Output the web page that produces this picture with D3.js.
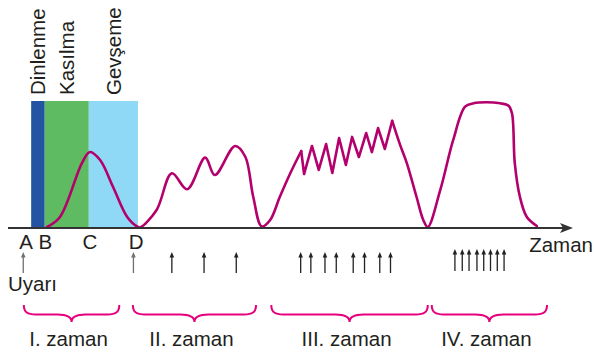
<!DOCTYPE html>
<html>
<head>
<meta charset="utf-8">
<script src="https://cdn.jsdelivr.net/npm/d3@7"></script>
<style>
  html, body { margin: 0; padding: 0; background: #fff; }
  svg { display: block; font-family: "Liberation Sans", Arial, sans-serif; }
</style>
</head>
<body>
<svg id="chart" width="594" height="353"></svg>
<script>
// Muscle twitch / summation / tetanus diagram: tension over time.

// Phases of a single twitch (time units): start, end
const phaseNames = ["Dinlenme", "Kasılma", "Gevşeme"];
const phaseBounds = [4.1, 6.5, 14.3, 23.0];
const phaseColors = ["#2354a3", "#5fbb62", "#8fd8f6"];

// Point labels on the time axis
const pointLabels = ["A", "B", "C", "D"];
const pointTimes = [3.2, 6.6, 14.5, 22.7];

// Stimulus (Uyarı) times
const stimGrey = [2.7, 22.2];
const stimBlack = [29.0, 34.7, 40.4,
                   51.8, 53.6, 56.1, 58.1, 61.1, 63.1, 65.8, 67.7,
                   79.1, 80.4, 81.6, 83.0, 84.2, 85.4, 86.6, 87.8];

// Time periods with braces
const periodNames = ["I. zaman", "II. zaman", "III. zaman", "IV. zaman"];
const periodStart = [2.8, 22.1, 46.6, 75.0];
const periodEnd = [19.7, 43.9, 74.3, 95.4];

// Tension curve: smooth rise (single twitch + summation + start of III)
const riseT = [6.9, 9.2, 13.1, 14.5, 16.3, 18.6, 21.1, 23.0, 23.4, 26.3, 29.0, 31.7, 34.9, 36.6, 40.2, 42.0, 43.4, 44.9, 46.4, 48.1, 49.9, 51.9];
const riseV = [0.8, 8.7, 51.2, 59.8, 53.5, 32.3, 8.7, 0.8, 0.4, 14.2, 43.1, 30.5, 55.4, 41.7, 64.6, 56.1, 24.6, 1.2, 6.3, 24.4, 42.5, 60.6];
// Incomplete tetanus: saw-tooth section
const sawT = [51.9, 52.4, 53.8, 55.0, 56.3, 57.4, 58.6, 59.8, 60.9, 62.1, 63.4, 64.4, 65.5, 66.7, 68.0];
const sawV = [60.6, 42.5, 64.6, 45.7, 66.1, 43.3, 70.9, 49.6, 71.7, 55.9, 74.8, 59.8, 78.7, 62.2, 84.3];
// Relaxation after III and complete tetanus (IV)
const tailT = [68.0, 69.4, 70.6, 72.3, 73.5, 74.3, 76.5, 78.8, 80.9, 82.4, 84.7, 87.1, 88.6, 89.2, 89.7, 90.6, 91.8, 93.6];
const tailV = [84.3, 65.4, 50.9, 24.6, 6.3, 0.8, 29.9, 69.3, 95.5, 98.2, 99.0, 98.2, 96.3, 90.3, 50.9, 24.6, 8.9, 1.6];

const svg = d3.select("#chart");
const x = d3.scaleLinear().domain([0, 100]).range([8, 573]);
const y = d3.scaleLinear().domain([0, 100]).range([228, 101]);

const textColor = "#231f20";
const curveColor = "#b3006c";
const braceColor = "#e6007e";

// Phase bars
const phases = phaseNames.map((n, i) => ({ name: n, t0: phaseBounds[i], t1: phaseBounds[i + 1], color: phaseColors[i] }));
svg.selectAll("rect.phase").data(phases).join("rect")
  .attr("class", "phase")
  .attr("x", d => x(d.t0))
  .attr("width", d => x(d.t1) - x(d.t0))
  .attr("y", y(100))
  .attr("height", y(0) - y(100))
  .attr("fill", d => d.color);

svg.selectAll("text.phase").data(phases).join("text")
  .attr("class", "phase")
  .attr("transform", d => `translate(${(x(d.t0) + x(d.t1)) / 2},${y(100) - 6}) rotate(-90)`)
  .attr("dy", "0.36em")
  .attr("font-size", 20.5)
  .attr("fill", textColor)
  .text(d => d.name);

// Tension curve
const toPts = (ts, vs) => ts.map((t, i) => [t, vs[i]]);
const smooth = d3.line().x(d => x(d[0])).y(d => y(d[1])).curve(d3.curveCatmullRom.alpha(0.5));
const straight = d3.line().x(d => x(d[0])).y(d => y(d[1]));
const curveG = svg.append("g")
  .attr("fill", "none")
  .attr("stroke", curveColor)
  .attr("stroke-width", 2.6)
  .attr("stroke-linejoin", "round")
  .attr("stroke-linecap", "round");
curveG.append("path").attr("d", smooth(toPts(riseT, riseV)));
curveG.append("path").attr("d", straight(toPts(sawT, sawV)));
curveG.append("path").attr("d", smooth(toPts(tailT, tailV)));

// Time axis with arrow
svg.append("line")
  .attr("x1", x(0)).attr("x2", x(100) - 8)
  .attr("y1", y(0)).attr("y2", y(0))
  .attr("stroke", "#333").attr("stroke-width", 2);
svg.append("path")
  .attr("d", `M${x(100)},${y(0)} L${x(100) - 13},${y(0) - 5} L${x(100) - 10},${y(0)} L${x(100) - 13},${y(0) + 5} Z`)
  .attr("fill", "#333");
svg.append("text")
  .attr("x", x(100) + 20).attr("y", 252)
  .attr("text-anchor", "end")
  .attr("font-size", 20.5)
  .attr("fill", textColor)
  .text("Zaman");

// Point labels
svg.selectAll("text.pt").data(pointLabels).join("text")
  .attr("class", "pt")
  .attr("x", (d, i) => x(pointTimes[i]))
  .attr("y", 249)
  .attr("text-anchor", "middle")
  .attr("font-size", 20.5)
  .attr("fill", textColor)
  .text(d => d);

// Stimulus arrows
function arrows(times, color, yTop, yBot) {
  const g = svg.append("g");
  times.forEach(t => {
    const cx = x(t);
    g.append("line").attr("x1", cx).attr("x2", cx).attr("y1", yTop + 4).attr("y2", yBot)
      .attr("stroke", color).attr("stroke-width", 1.3);
    g.append("path").attr("d", `M${cx},${yTop} L${cx - 2.3},${yTop + 5.5} L${cx + 2.3},${yTop + 5.5} Z`)
      .attr("fill", color);
  });
}
arrows(stimGrey, "#707070", 252, 273);
arrows(stimBlack.slice(0, 11), "#222", 252, 273);
arrows(stimBlack.slice(11), "#222", 249, 271);

svg.append("text")
  .attr("x", 8).attr("y", 291)
  .attr("font-size", 20.5)
  .attr("fill", textColor)
  .text("Uyarı");

// Braces under each period
const yTop = 305, yH = 314.5, yTip = 322;
function bracePath(x0, x1) {
  const m = (x0 + x1) / 2;
  return `M${x0},${yTop} C${x0},${yH - 2} ${x0 + 4},${yH} ${x0 + 12},${yH}` +
    ` L${m - 14},${yH} C${m - 5},${yH} ${m},${yH + 2} ${m},${yTip}` +
    ` C${m},${yH + 2} ${m + 5},${yH} ${m + 14},${yH}` +
    ` L${x1 - 12},${yH} C${x1 - 4},${yH} ${x1},${yH - 2} ${x1},${yTop}`;
}
const periods = periodNames.map((n, i) => ({ name: n, x0: x(periodStart[i]), x1: x(periodEnd[i]) }));
svg.selectAll("path.brace").data(periods).join("path")
  .attr("class", "brace")
  .attr("d", d => bracePath(d.x0, d.x1))
  .attr("fill", "none")
  .attr("stroke", braceColor)
  .attr("stroke-width", 2);

svg.selectAll("text.period").data(periods).join("text")
  .attr("class", "period")
  .attr("x", d => (d.x0 + d.x1) / 2 - 3)
  .attr("y", 346)
  .attr("text-anchor", "middle")
  .attr("font-size", 20.5)
  .attr("fill", textColor)
  .text(d => d.name);
</script>
</body>
</html>
